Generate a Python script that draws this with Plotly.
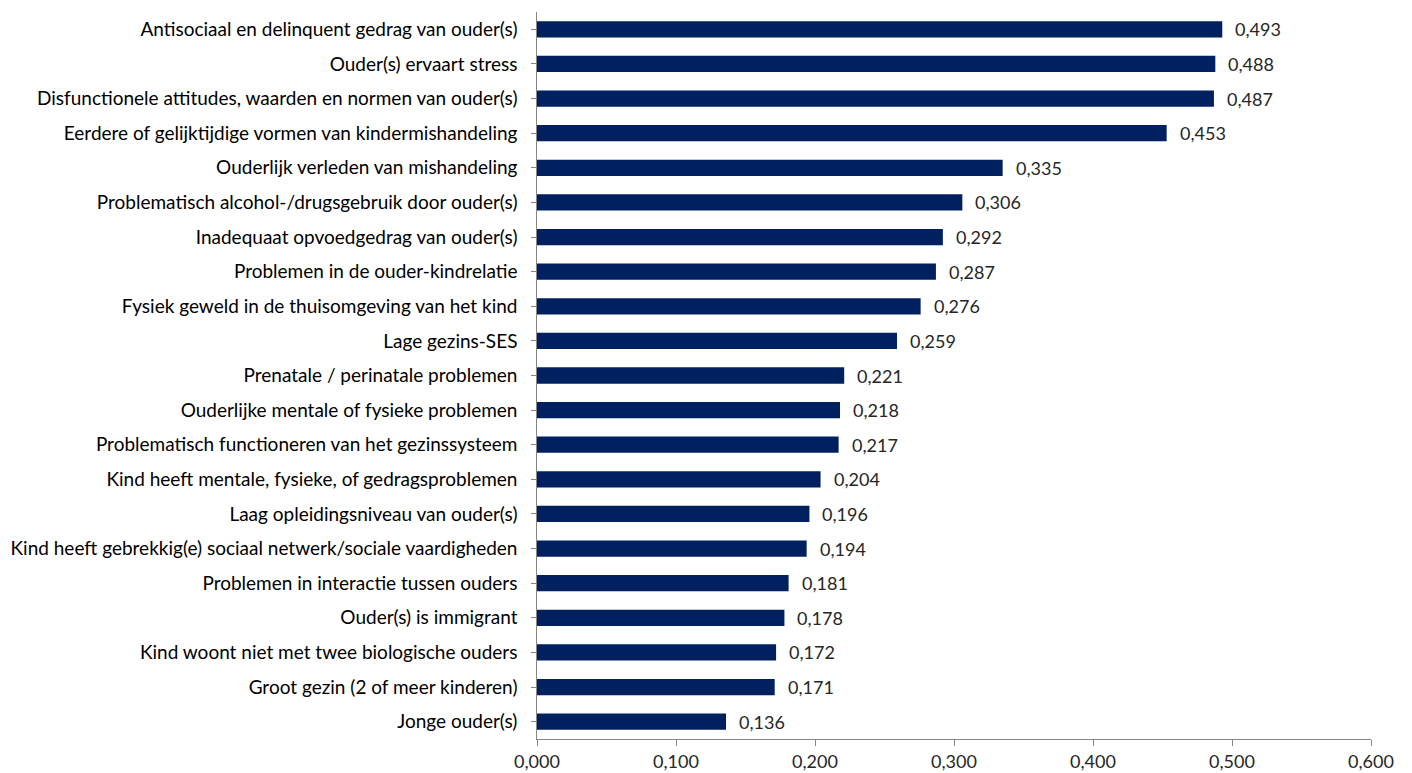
import plotly.graph_objects as go

categories = [
    "Antisociaal en delinquent gedrag van ouder(s)",
    "Ouder(s) ervaart stress",
    "Disfunctionele attitudes, waarden en normen van ouder(s)",
    "Eerdere of gelijktijdige vormen van kindermishandeling",
    "Ouderlijk verleden van mishandeling",
    "Problematisch alcohol-/drugsgebruik door ouder(s)",
    "Inadequaat opvoedgedrag van ouder(s)",
    "Problemen in de ouder-kindrelatie",
    "Fysiek geweld in de thuisomgeving van het kind",
    "Lage gezins-SES",
    "Prenatale / perinatale problemen",
    "Ouderlijke mentale of fysieke problemen",
    "Problematisch functioneren van het gezinssysteem",
    "Kind heeft mentale, fysieke, of gedragsproblemen",
    "Laag opleidingsniveau van ouder(s)",
    "Kind heeft gebrekkig(e) sociaal netwerk/sociale vaardigheden",
    "Problemen in interactie tussen ouders",
    "Ouder(s) is immigrant",
    "Kind woont niet met twee biologische ouders",
    "Groot gezin (2 of meer kinderen)",
    "Jonge ouder(s)",
]
values = [0.493, 0.488, 0.487, 0.453, 0.335, 0.306, 0.292, 0.287, 0.276, 0.259,
          0.221, 0.218, 0.217, 0.204, 0.196, 0.194, 0.181, 0.178, 0.172, 0.171, 0.136]
value_labels = [f"{v:.3f}".replace(".", ",") for v in values]
tick_vals = [0.0, 0.1, 0.2, 0.3, 0.4, 0.5, 0.6]

FONT = "Lato"
FS = 18
FS_CAT = 19

fig = go.Figure(go.Bar(
    x=values, y=categories, orientation="h",
    marker=dict(color="#002060", line=dict(width=0)),
    width=0.47,
))

for c, v, t in zip(categories, values, value_labels):
    fig.add_annotation(x=v, y=c, text=t, showarrow=False, xanchor="left",
                       xshift=11, font=dict(family=FONT, size=FS, color="#262626"))

fig.update_layout(
    width=1404, height=765,
    margin=dict(l=529, r=41, t=4, b=34),
    paper_bgcolor="white", plot_bgcolor="white",
    separators=",.",
    showlegend=False,
    font=dict(family=FONT, size=FS, color="#262626"),
    xaxis=dict(range=[0, 0.6], tickvals=tick_vals, tickformat=".3f", automargin=False,
               showgrid=False, zeroline=False, showline=True, linecolor="#868686",
               linewidth=1, ticks="outside", ticklen=6, tickcolor="#868686",
               tickfont=dict(family=FONT, size=FS, color="#262626")),
    yaxis=dict(autorange="reversed", showgrid=False, showline=True, linecolor="#868686",
               linewidth=1, ticks="outside", ticklen=5, tickcolor="#868686", automargin=False,
               tickfont=dict(family=FONT, size=FS_CAT, color="#000000"),
               ticksuffix="\u00a0\u00a0"),
)

fig.write_html("out.html")
